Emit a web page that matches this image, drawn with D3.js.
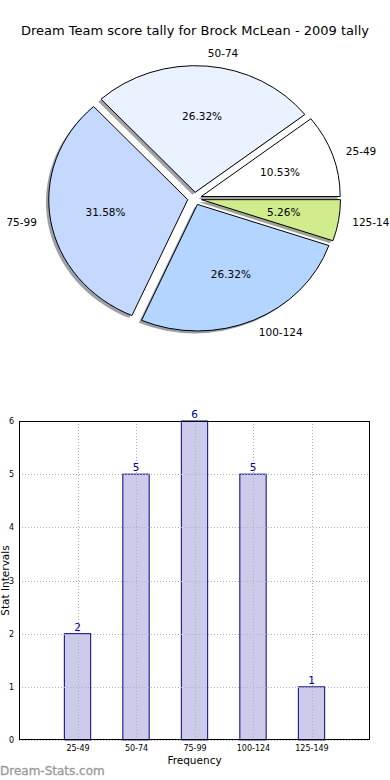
<!DOCTYPE html>
<html>
<head>
<meta charset="utf-8">
<script src="https://cdn.jsdelivr.net/npm/d3@7"></script>
<style>
html,body{margin:0;padding:0;background:#fff;}
svg{display:block;font-family:"DejaVu Sans",sans-serif;}
</style>
</head>
<body>
<svg id="chart" width="390" height="780"></svg>
<script>
const title = "Dream Team score tally for Brock McLean - 2009 tally";
const categories = ["25-49", "50-74", "75-99", "100-124", "125-149"];
const counts = [2, 5, 6, 5, 1];
const sliceColors = ["#ffffff", "#eaf1ff", "#c5d9ff", "#b4d5ff", "#d0ec8c"];
const yTicks = [0, 1, 2, 3, 4, 5, 6];
const xLabel = "Frequency";
const yLabel = "Stat Intervals";
const watermark = "Dream-Stats.com";

(function () {
const svg = d3.select("#chart");

svg.append("text").attr("x", 195).attr("y", 35).attr("text-anchor", "middle")
  .attr("font-size", 13).attr("fill", "#000").text(title);

// ---------- Pie ----------
const cx = 194.6, cy = 198.6, rx = 139, ry = 126.6;
const explode = 0.05;
const total = d3.sum(counts);
const pie = d3.pie().sort(null).startAngle(Math.PI / 2).endAngle(Math.PI / 2 - 2 * Math.PI);
const arcs = pie(counts);
const arc = d3.arc().innerRadius(0).outerRadius(rx);
const sy = ry / rx;

const pieG = svg.append("g").attr("transform", `translate(${cx},${cy})`);
function offset(d) {
  const a = (d.startAngle + d.endAngle) / 2;
  return [Math.sin(a) * explode * rx, -Math.cos(a) * explode * rx];
}
pieG.selectAll("path.shadow").data(arcs).enter().append("path")
  .attr("class", "shadow")
  .attr("transform", d => { const o = offset(d); return `scale(1,${sy}) translate(${o[0] - 0.02 * rx},${o[1] + 0.02 * rx})`; })
  .attr("d", arc)
  .attr("fill", (d, i) => { const c = d3.rgb(sliceColors[i]); return `rgb(${c.r*0.3},${c.g*0.3},${c.b*0.3})`; })
  .attr("fill-opacity", 0.5)
  .attr("stroke", "none");
pieG.selectAll("path.wedge").data(arcs).enter().append("path")
  .attr("class", "wedge")
  .attr("transform", d => { const o = offset(d); return `scale(1,${sy}) translate(${o[0]},${o[1]})`; })
  .attr("d", arc)
  .attr("fill", (d, i) => sliceColors[i])
  .attr("stroke", "#000").attr("stroke-width", 1)
  .attr("vector-effect", "non-scaling-stroke");

arcs.forEach((d, i) => {
  const a = (d.startAngle + d.endAngle) / 2;
  const ux = Math.sin(a), uy = -Math.cos(a);
  const lx = ux * (explode + 1.1) * rx, ly = uy * (explode + 1.1) * ry;
  pieG.append("text").attr("x", lx).attr("y", ly).attr("dy", "0.35em")
    .attr("text-anchor", lx > 0 ? "start" : "end")
    .attr("font-size", 10.5).attr("fill", "#000").text(categories[i]);
  const px = ux * (explode + 0.6) * rx, py = uy * (explode + 0.6) * ry;
  pieG.append("text").attr("x", px).attr("y", py).attr("dy", "0.35em")
    .attr("text-anchor", "middle")
    .attr("font-size", 10.5).attr("fill", "#000")
    .text((counts[i] / total * 100).toFixed(2) + "%");
});

// ---------- Bar chart ----------
const pl = 19, pr = 370, pt = 421, pb = 740;
const x = d3.scaleLinear().domain([-1, categories.length]).range([pl, pr]);
const y = d3.scaleLinear().domain([0, 6]).range([pb, pt]);
const barW = 0.45;
const bg = svg.append("g");

bg.selectAll("rect.bar").data(counts).enter().append("rect")
  .attr("class", "bar")
  .attr("x", (d, i) => x(i - barW / 2))
  .attr("width", x(barW) - x(0))
  .attr("y", d => y(d))
  .attr("height", d => y(0) - y(d))
  .attr("fill", "#ccccea").attr("stroke", "#00008b").attr("stroke-width", 1);

bg.selectAll("line.vg").data(categories).enter().append("line")
  .attr("x1", (d, i) => Math.round(x(i)) + 0.5).attr("x2", (d, i) => Math.round(x(i)) + 0.5)
  .attr("y1", pt).attr("y2", pb)
  .attr("stroke", "#b0b0b0").attr("stroke-width", 1).attr("stroke-dasharray", "1,2");
bg.selectAll("line.hg").data(yTicks).enter().append("line")
  .attr("x1", pl).attr("x2", pr)
  .attr("y1", d => Math.round(y(d)) + 0.5).attr("y2", d => Math.round(y(d)) + 0.5)
  .attr("stroke", "#b0b0b0").attr("stroke-width", 1).attr("stroke-dasharray", "1,2");

bg.selectAll("text.val").data(counts).enter().append("text")
  .attr("x", (d, i) => x(i)).attr("y", d => y(d) - 3)
  .attr("text-anchor", "middle").attr("font-size", 10.5).attr("fill", "#00008b")
  .text(d => d);

bg.append("rect").attr("x", pl + 0.5).attr("y", pt + 0.5)
  .attr("width", pr - pl - 1).attr("height", pb - pt - 1)
  .attr("fill", "none").attr("stroke", "#000").attr("stroke-width", 1);

const yAxis = d3.axisLeft(y).tickValues(yTicks).tickSize(0).tickPadding(5).tickFormat(d3.format("d"));
const yg = bg.append("g").attr("transform", `translate(${pl},0)`).call(yAxis);
yg.select(".domain").remove();
yg.selectAll("text").attr("font-size", 8).attr("font-family", "DejaVu Sans").attr("fill", "#000");

const xAxis = d3.axisBottom(x).tickValues(d3.range(categories.length)).tickSize(0).tickPadding(5)
  .tickFormat(i => categories[i]);
const xg = bg.append("g").attr("transform", `translate(0,${pb})`).call(xAxis);
xg.select(".domain").remove();
xg.selectAll("text").attr("font-size", 8).attr("font-family", "DejaVu Sans").attr("fill", "#000");

svg.append("text").attr("x", (pl + pr) / 2).attr("y", 764).attr("text-anchor", "middle")
  .attr("font-size", 10.5).attr("fill", "#000").text(xLabel);
svg.append("text").attr("transform", `translate(5.5,${(pt + pb) / 2}) rotate(-90)`)
  .attr("text-anchor", "middle").attr("dy", "0.35em")
  .attr("font-size", 10.5).attr("fill", "#000").text(yLabel);

svg.append("text").attr("x", 0).attr("y", 775).attr("font-size", 12)
  .attr("fill", "#999").attr("stroke", "#999").attr("stroke-width", 0.3).text(watermark);
})();
</script>
</body>
</html>
